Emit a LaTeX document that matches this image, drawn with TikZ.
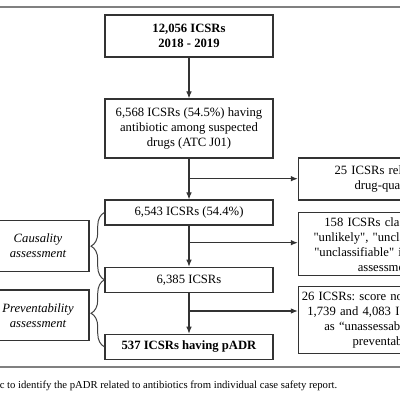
\documentclass[tikz,border=0pt]{standalone}
\usepackage{fontspec}
\setmainfont{Liberation Serif}
\usetikzlibrary{arrows.meta,decorations.pathreplacing}

\begin{document}
\begin{tikzpicture}[x=0.025cm,y=-0.025cm,
    box/.style={draw=black!80,line width=0.8pt,inner sep=0pt,align=center,
                font=\fontsize{9}{10.7}\selectfont},
    mainbox/.style={box,minimum width=4.2cm},
    sidebox/.style={box,anchor=west,text width=4.35cm,inner xsep=0.0125cm},
    leftbox/.style={box,minimum width=2.55cm,font=\fontsize{9}{10.7}\selectfont\itshape},
    arr/.style={draw=black!80,line width=0.8pt,-{Latex[length=5pt,width=4pt]}},
    brc/.style={draw=black!75,line width=0.7pt,decorate,decoration={brace,amplitude=9.5pt}},
    rule/.style={draw=black!50,line width=1.4pt}]

    \useasboundingbox (0,0) rectangle (400,400);
    \clip (0,0) rectangle (400,400);
    \fill[white] (0,0) rectangle (400,400);

    % Main Column
    % -----------
    \node[mainbox,minimum height=1.05cm,font=\fontsize{9}{10.7}\selectfont\bfseries] (b1) at (189,36)
        {12,056 ICSRs\\2018 - 2019};
    \node[mainbox,minimum height=1.475cm] (b2) at (189,128.5)
        {6,568 ICSRs (54.5\%) having\\antibiotic among suspected\\drugs (ATC J01)};
    \node[mainbox,minimum height=0.625cm] (b3) at (189,212.5) {6,543 ICSRs (54.4\%)};
    \node[mainbox,minimum height=0.625cm] (b4) at (189,279.8) {6,385 ICSRs};
    \node[mainbox,minimum height=0.625cm,font=\fontsize{9}{10.7}\selectfont\bfseries] (b5) at (189,346.8)
        {537 ICSRs having pADR};

    % Excluded
    % --------
    \node[sidebox,minimum height=1.05cm] (r1) at (297.8,179)
        {25 ICSRs related to\\drug-quality};
    \node[sidebox,minimum height=1.575cm] (r2) at (297.8,244.2)
        {158 ICSRs classified as\\\textquotedbl unlikely\textquotedbl, \textquotedbl unclassified\textquotedbl\ or\\\textquotedbl unclassifiable\textquotedbl\ in causality\\assessment};
    \node[sidebox,minimum height=1.665cm,text width=4.75cm] (r3) at (297.8,320)
        {26 ICSRs:\ score not applicable,\rule{0.5cm}{0pt}\\1,739 and 4,083 ICSRs classified\\as “unassessable” and “not\\preventable”\rule{0.45cm}{0pt}};

    % Assessments
    % -----------
    \node[leftbox,minimum height=1.26cm] (l1) at (38,245.9) {Causality\\assessment};
    \node[leftbox,minimum height=1.27cm] (l2) at (38,315.4) {Preventability\\assessment};

    % Junctions
    % ---------
    \coordinate (j1) at (189,178.7);
    \coordinate (j2) at (189,242.7);
    \coordinate (j3) at (189,311);

    % Draw Paths
    % ----------
    \draw[arr] (b1) -- (b2);
    \draw[arr] (b2) -- (b3);
    \draw[arr] (b3) -- (b4);
    \draw[arr] (b4) -- (b5);
    \draw[arr] (j1) -- (j1 -| r1.west);
    \draw[arr] (j2) -- (j2 -| r2.west);
    \draw[arr] (j3) -- (j3 -| r3.west);
    \draw[brc] (b4.west) -- (b3.west);
    \draw[brc] (b5.west) -- (b4.west);

    % Rules and Caption
    % -----------------
    \draw[rule] (0,7) -- (400,7);
    \draw[rule] (0,366.7) -- (400,366.7);
    \node[anchor=west,inner sep=0pt,font=\fontsize{7.6}{9}\selectfont] (cap) at (-0.5,386)
        {c to identify the pADR related to antibiotics from individual case safety report.};

\end{tikzpicture}
\end{document}
